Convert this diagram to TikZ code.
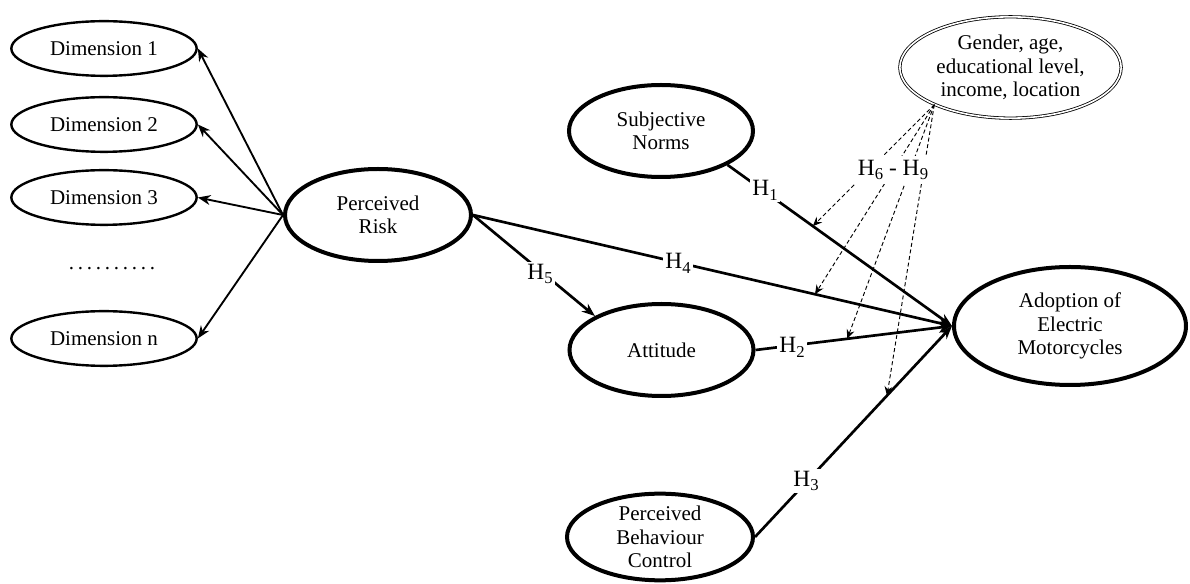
\documentclass[tikz,border=0pt]{standalone}
\usepackage{fontspec}
\setmainfont{Liberation Serif}
\usetikzlibrary{shapes.geometric,arrows.meta}
\newcommand{\Hl}[1]{H\kern0.2pt\raisebox{-0.45ex}{\fontsize{12.5}{12.5}\selectfont #1}}
\newcommand{\dk}{.\kern2.8pt}
\begin{document}
\begin{tikzpicture}[x=0.75pt,y=-0.75pt,
  every node/.style={font=\fontsize{15.75}{17.5}\selectfont, align=center},
  dimbox/.style={ellipse, draw, line width=1.8pt, minimum width=139pt, minimum height=41pt, inner sep=-6pt},
  latent/.style={ellipse, draw, line width=3pt, minimum width=138pt, minimum height=69pt, inner sep=-10pt},
  modbox/.style={ellipse, draw, double, line width=0.6pt, double distance=1.2pt, minimum width=166pt, minimum height=76pt, inner sep=-10pt},
  dimarrow/.style={line width=1.4pt, -{Stealth[length=9.5pt,width=7.5pt]}},
  mainarrow/.style={line width=2pt, -{Stealth[length=10pt,width=7.5pt]}},
  modline/.style={line width=0.7pt, dash pattern=on 3pt off 2pt},
  modarrow/.style={modline, -{Stealth[length=7pt,width=6pt,inset=2.5pt]}},
  hlab/.style={fill=white, inner sep=1.5pt, font=\fontsize{17.5}{17.5}\selectfont}
]
\useasboundingbox (0,0) rectangle (1190,584);

% dimensions
\node[dimbox] (d1) at (104,48.5) {Dimension 1};
\node[dimbox] (d2) at (104,124.5) {Dimension 2};
\node[dimbox] (d3) at (104,197.5) {Dimension 3};
\node[dimbox] (dn) at (104,338.5) {Dimension n};
\node (dots) at (112,269) {\dk\dk\dk\dk\dk\dk\dk\dk\dk.};

% latent constructs
\node[latent, minimum width=139.5pt] (pr) at (378,215) {Perceived\\Risk};
\node[latent] (sn) at (661,131) {Subjective\\Norms};
\node[latent] (att) at (661.5,350) {Attitude};
\node[latent, minimum width=139.5pt, minimum height=65pt] (pbc) at (660,537) {Perceived\\Behaviour\\Control};
\node[latent, minimum width=174pt, minimum height=88.5pt] (ad) at (1070,326) {Adoption of\\Electric\\Motorcycles};
\node[modbox] (gen) at (1010.5,67.5) {Gender, age,\\educational level,\\income, location};

% dimension arrows
\draw[dimarrow] (pr.west) -- (d1.east);
\draw[dimarrow] (pr.west) -- (d2.east);
\draw[dimarrow] (pr.west) -- (d3.east);
\draw[dimarrow] (pr.west) -- (dn.east);

% structural paths
\draw[mainarrow] (sn.-27) -- coordinate[pos=0.38] (m1) (ad.west);
\draw[mainarrow] (pr.east) -- coordinate[pos=0.714] (m2) (ad.west);
\draw[mainarrow] (att.east) -- coordinate[pos=0.467] (m3) (ad.west);
\draw[mainarrow] (pbc.east) -- coordinate[pos=0.67] (m4) (ad.west);
\draw[mainarrow] (pr.east) -- (att.153);

% moderators
\coordinate (g0) at (gen.206);
\draw[modarrow] (g0) -- (m1);
\draw[modarrow] (g0) -- (m2);
\draw[modarrow] (g0) -- (m3);
\draw[modarrow] (g0) -- (m4);

% labels
\node[hlab] (h1) at (765,190) {\Hl{1}};
\node[hlab] (h4) at (678,263) {\Hl{4}};
\node[hlab] (h5) at (540,274) {\Hl{5}};
\node[hlab] (h2) at (792,347) {\Hl{2}};
\node[hlab] (h3) at (806,481) {\Hl{3}};
\node[hlab, inner sep=3pt] (h69) at (893,170) {\Hl{6} - \Hl{9}};
\end{tikzpicture}
\end{document}
